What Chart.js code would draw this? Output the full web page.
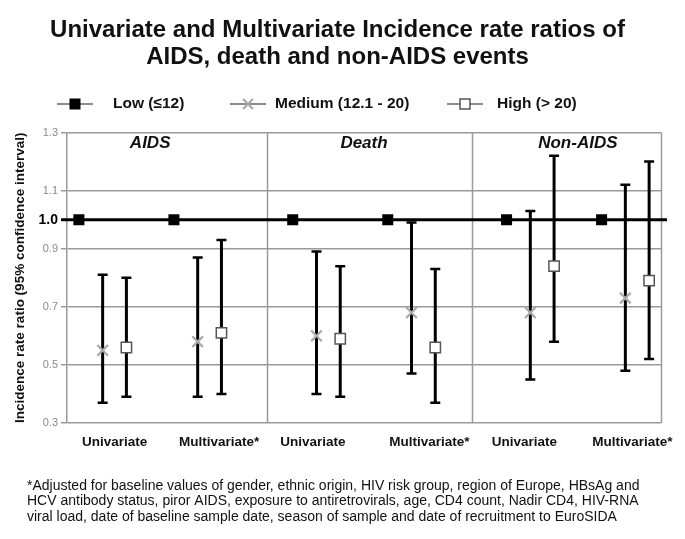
<!DOCTYPE html>
<html>
<head>
<meta charset="utf-8">
<script src="https://cdn.jsdelivr.net/npm/chart.js@4/dist/chart.umd.min.js"></script>
<style>
  html, body { margin: 0; padding: 0; background: #fff; }
  #wrap { width: 685px; height: 539px; }
</style>
</head>
<body>
<div id="wrap"><canvas id="irrChart"></canvas></div>
<script>
// Six comparisons: AIDS, Death, Non-AIDS, each as univariate then multivariate
const modelLabels = ['Univariate', 'Multivariate*', 'Univariate', 'Multivariate*', 'Univariate', 'Multivariate*'];
const panelNames = ['AIDS', 'Death', 'Non-AIDS'];
const seriesNames = ['Low (\u226412)', 'Medium (12.1 - 20)', 'High (> 20)'];

// incidence rate ratios, Low is the reference group
const lowIRR = [1, 1, 1, 1, 1, 1];
const mediumIRR = [0.55, 0.58, 0.60, 0.68, 0.68, 0.73];
const mediumLower = [0.37, 0.39, 0.40, 0.47, 0.45, 0.48];
const mediumUpper = [0.81, 0.87, 0.89, 0.99, 1.03, 1.12];
const highIRR = [0.56, 0.61, 0.59, 0.56, 0.84, 0.79];
const highLower = [0.39, 0.40, 0.39, 0.37, 0.58, 0.52];
const highUpper = [0.80, 0.93, 0.84, 0.83, 1.22, 1.20];

const yTicks = [0.3, 0.5, 0.7, 0.9, 1.0, 1.1, 1.3];

// layout on the x axis (slot units, one slot per point)
const groupSlots = [0, 4, 9, 13, 18, 22];
const labelSlots = [1.5, 5.9, 9.85, 14.75, 18.75, 23.3];
const dividerSlots = [7.9, 16.55];
const panelSlots = [3, 12, 21];

const FONT = '"Liberation Sans", Arial, sans-serif';
const GRID = '#9a9a9a';

const toPoints = (vals, shift) => vals.map((v, i) => ({ x: groupSlots[i] + shift, y: v }));
const isRef = c => !!(c && c.tick && c.tick.value === 1);

function drawMarker(ctx, kind, x, y) {
  ctx.save();
  if (kind === 0) {
    ctx.fillStyle = '#000';
    ctx.fillRect(x - 5.5, y - 5.5, 11, 11);
  } else if (kind === 1) {
    ctx.strokeStyle = '#a8a8a8';
    ctx.lineWidth = 2.2;
    ctx.beginPath();
    ctx.moveTo(x - 5, y - 5); ctx.lineTo(x + 5, y + 5);
    ctx.moveTo(x + 5, y - 5); ctx.lineTo(x - 5, y + 5);
    ctx.stroke();
  } else {
    ctx.fillStyle = '#fff';
    ctx.strokeStyle = '#555';
    ctx.lineWidth = 1.5;
    ctx.fillRect(x - 5, y - 5, 10, 10);
    ctx.strokeRect(x - 5, y - 5, 10, 10);
  }
  ctx.restore();
}

const decorations = {
  id: 'decorations',
  beforeDatasetsDraw(chart) {
    const { ctx, chartArea: a, scales: { x, y } } = chart;
    ctx.save();
    // panel dividers and right frame
    ctx.strokeStyle = GRID;
    ctx.lineWidth = 1.5;
    dividerSlots.concat([24.5]).forEach(s => {
      const px = Math.round(x.getPixelForValue(s)) + 0.5;
      ctx.beginPath();
      ctx.moveTo(px, a.top);
      ctx.lineTo(px, a.bottom);
      ctx.stroke();
    });
    // reference line at 1.0
    const y1 = y.getPixelForValue(1);
    ctx.strokeStyle = '#000';
    ctx.lineWidth = 3;
    ctx.beginPath();
    ctx.moveTo(a.left - 6, y1);
    ctx.lineTo(a.right + 6, y1);
    ctx.stroke();
    // confidence intervals
    chart.data.datasets.forEach(ds => {
      if (!ds.lower) return;
      ds.data.forEach((pt, i) => {
        const px = x.getPixelForValue(pt.x);
        const top = y.getPixelForValue(ds.upper[i]);
        const bot = y.getPixelForValue(ds.lower[i]);
        ctx.lineWidth = 3;
        ctx.beginPath();
        ctx.moveTo(px, top);
        ctx.lineTo(px, bot);
        ctx.stroke();
        ctx.lineWidth = 2.5;
        ctx.beginPath();
        ctx.moveTo(px - 5, top); ctx.lineTo(px + 5, top);
        ctx.moveTo(px - 5, bot); ctx.lineTo(px + 5, bot);
        ctx.stroke();
      });
    });
    ctx.restore();
  },
  afterDraw(chart) {
    const { ctx, chartArea: a, scales: { x } } = chart;
    ctx.save();
    ctx.textBaseline = 'middle';
    ctx.fillStyle = '#111';

    // panel names
    ctx.textAlign = 'center';
    ctx.font = 'italic bold 17px ' + FONT;
    panelNames.forEach((name, i) => {
      ctx.fillText(name, x.getPixelForValue(panelSlots[i]), a.top + 11);
    });

    // legend
    const iconStart = [57, 230, 447];
    const textStart = [113, 275, 497];
    const legendY = 104;
    ctx.textAlign = 'left';
    ctx.font = 'bold 15.5px ' + FONT;
    seriesNames.forEach((name, i) => {
      ctx.strokeStyle = '#666';
      ctx.lineWidth = 1.5;
      ctx.beginPath();
      ctx.moveTo(iconStart[i], legendY);
      ctx.lineTo(iconStart[i] + 36, legendY);
      ctx.stroke();
      drawMarker(ctx, i, iconStart[i] + 18, legendY);
      ctx.fillStyle = '#111';
      ctx.fillText(name, textStart[i], legendY);
    });

    // footnote
    const notes = [
      '*Adjusted for baseline values of gender, ethnic origin, HIV risk group, region of Europe, HBsAg and',
      'HCV antibody status, piror AIDS, exposure to antiretrovirals, age, CD4 count, Nadir CD4, HIV-RNA',
      'viral load, date of baseline sample date, season of sample and date of recruitment to EuroSIDA'
    ];
    ctx.font = '14px ' + FONT;
    notes.forEach((line, i) => ctx.fillText(line, 27, 486 + i * 15.5, 620));
    ctx.restore();
  }
};

new Chart(document.getElementById('irrChart'), {
  type: 'scatter',
  data: {
    datasets: [
      {
        label: seriesNames[0],
        data: toPoints(lowIRR, 0),
        pointStyle: 'rect',
        pointRadius: 7.8,
        backgroundColor: '#000',
        borderColor: '#000',
        borderWidth: 0
      },
      {
        label: seriesNames[1],
        data: toPoints(mediumIRR, 1),
        lower: mediumLower,
        upper: mediumUpper,
        pointStyle: 'crossRot',
        pointRadius: 7.5,
        borderColor: '#a8a8a8',
        borderWidth: 2.2
      },
      {
        label: seriesNames[2],
        data: toPoints(highIRR, 2),
        lower: highLower,
        upper: highUpper,
        pointStyle: 'rect',
        pointRadius: 7.3,
        backgroundColor: '#fff',
        borderColor: '#555',
        borderWidth: 1.5
      }
    ]
  },
  options: {
    responsive: true,
    maintainAspectRatio: false,
    animation: false,
    layout: { padding: { left: 14, right: 24, top: 0, bottom: 86 } },
    plugins: {
      legend: { display: false },
      tooltip: { enabled: false },
      title: {
        display: true,
        text: ['Univariate and Multivariate Incidence rate ratios of', 'AIDS, death and non-AIDS events'],
        color: '#111',
        font: { family: FONT, size: 24, weight: 'bold', lineHeight: 1.125 },
        padding: { top: 16.5, bottom: 62 }
      }
    },
    scales: {
      x: {
        type: 'linear',
        min: -0.5,
        max: 24.5,
        grid: { display: false, drawTicks: false },
        border: { display: false },
        afterBuildTicks: s => { s.ticks = labelSlots.map(v => ({ value: v })); },
        afterFit: s => { s.paddingLeft = 0; s.paddingRight = 0; s.height = 30; },
        ticks: {
          autoSkip: false,
          maxRotation: 0,
          minRotation: 0,
          padding: 11,
          color: '#111',
          font: { family: FONT, size: 13.5, weight: 'bold' },
          callback: (v, i) => modelLabels[i]
        }
      },
      y: {
        min: 0.3,
        max: 1.3,
        afterBuildTicks: s => { s.ticks = yTicks.map(v => ({ value: v })); },
        afterFit: s => { s.width = 53; },
        grid: {
          color: c => (isRef(c) ? 'rgba(0,0,0,0)' : GRID),
          lineWidth: 1.5,
          tickLength: 6,
          tickColor: c => (isRef(c) ? 'rgba(0,0,0,0)' : GRID)
        },
        border: { color: GRID, width: 1.5 },
        ticks: {
          padding: 3,
          color: c => (isRef(c) ? '#000' : '#8a8a8a'),
          font: c => (isRef(c)
            ? { family: FONT, size: 14, weight: 'bold' }
            : { family: FONT, size: 11 }),
          callback: v => v.toFixed(1)
        },
        title: {
          display: true,
          text: 'Incidence rate ratio (95% confidence interval)',
          color: '#111',
          font: { family: FONT, size: 13.5, weight: 'bold' },
          padding: { top: -2, bottom: 0 }
        }
      }
    }
  },
  plugins: [decorations]
});
</script>
</body>
</html>
